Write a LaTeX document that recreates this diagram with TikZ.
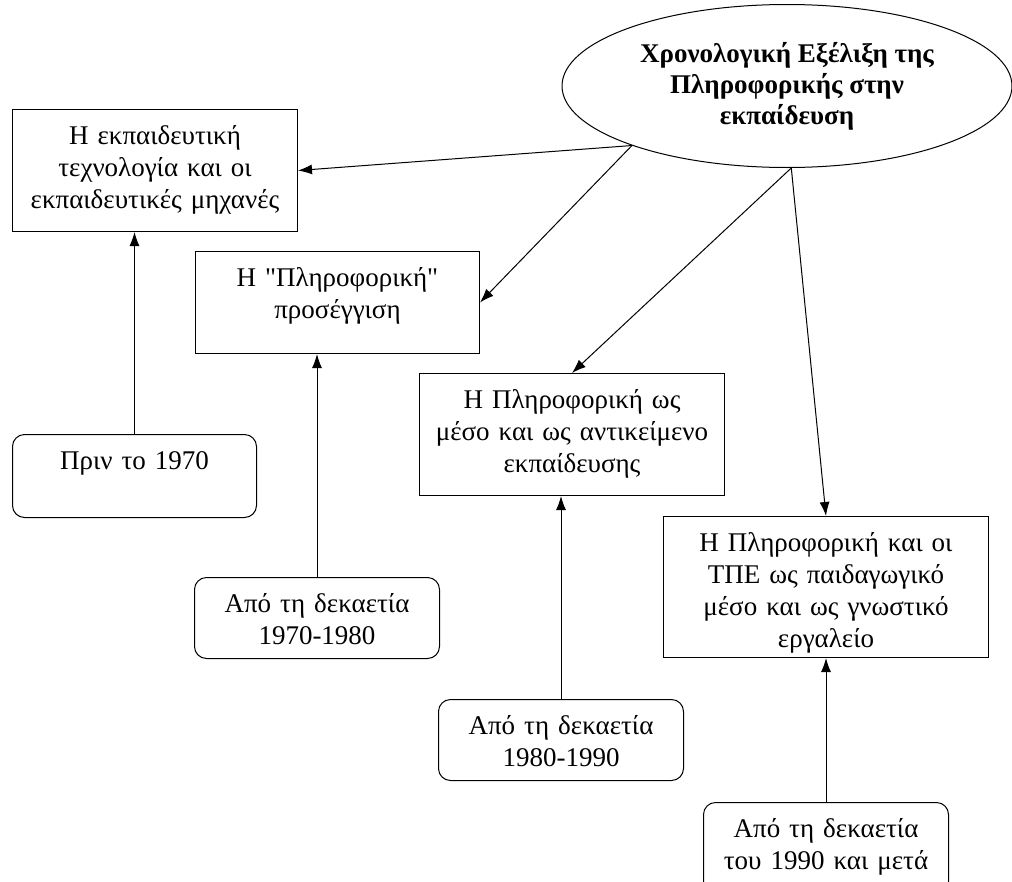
\documentclass[tikz,border=0pt]{standalone}
\usepackage{fontspec}
\setmainfont{Liberation Serif}[Ligatures=TeXOff]
\usetikzlibrary{positioning,shapes.geometric,arrows.meta}

\begin{document}
\begin{tikzpicture} [x=1pt, y=-1pt,
            font=\fontsize{27}{32}\selectfont,
            box/.style 2 args={rectangle, draw, line width=1pt, anchor=north west, align=center, inner xsep=5pt, inner ysep=16pt, text height=19pt, text width=#1, text depth=#2},
            rbox/.style 2 args={box={#1}{#2}, rounded corners=12pt},
            titel/.style={ellipse, draw, line width=1pt, minimum width=450pt, minimum height=163pt, inner sep=0pt, align=center, font=\fontsize{27}{31}\selectfont\bfseries},
            arr/.style={-{Latex[length=14pt,width=10pt]}, line width=1pt},]
        \clip (0,0) rectangle (1012,881);
        \node[titel](t) at (787,86){Χρονολογική Εξέλιξη της\\Πληροφορικής στην\\εκπαίδευση};
        \node[box={275pt}{71pt}](1) at (12,109){Η εκπαιδευτική\\τεχνολογία και οι\\εκπαιδευτικές μηχανές};
        \node[box={274pt}{51pt}](2) at (195,251){Η "Πληροφορική"\\προσέγγιση};
        \node[box={295pt}{71pt}](3) at (419,373){Η Πληροφορική ως\\μέσο και ως αντικείμενο\\εκπαίδευσης};
        \node[box={315pt}{90pt}](4) at (663,516){Η Πληροφορική και οι\\ΤΠΕ ως παιδαγωγικό\\μέσο και ως γνωστικό\\εργαλείο};
        \node[rbox={234pt}{32pt}](5) at (12,434){Πριν το 1970};
        \node[rbox={235pt}{30pt}](6) at (194,577){Από τη δεκαετία\\1970-1980};
        \node[rbox={235pt}{30pt}](7) at (438,699){Από τη δεκαετία\\1980-1990};
        \node[rbox={235pt}{40pt}](8) at (703,802){Από τη δεκαετία\\του 1990 και μετά};
        \draw[arr] (t.201) -- (1.east);
        \draw[arr] (t.201) -- (2.east);
        \draw[arr] (t.273) -- (3.north);
        \draw[arr] (t.273) -- (4.north);
        \draw[arr] (5.north) -- (5.north |- 1.south);
        \draw[arr] (6.north) -- (6.north |- 2.south);
        \draw[arr] (7.north) -- (7.north |- 3.south);
        \draw[arr] (8.north) -- (4.south);
    \end{tikzpicture}
\end{document}
